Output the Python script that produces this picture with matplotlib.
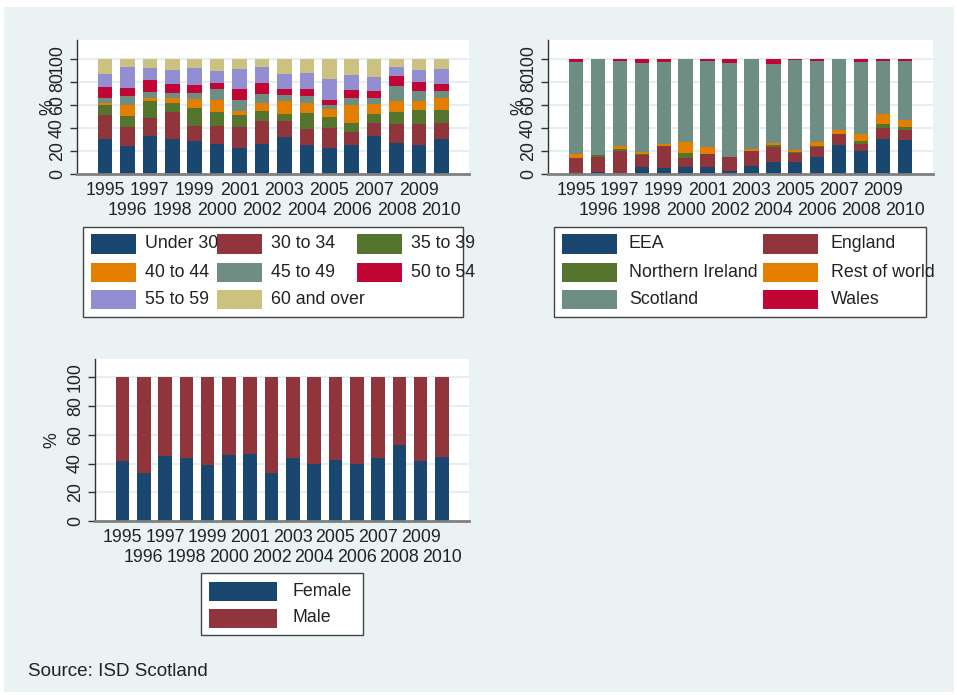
import numpy as np
import matplotlib
matplotlib.use("Agg")
import matplotlib.pyplot as plt
from matplotlib.patches import Rectangle

plt.rcParams["font.family"] = ["Liberation Sans", "DejaVu Sans"]

# ---------------------------------------------------------------- data
years = list(range(1995, 2011))

# Age group shares (%)
age_groups = ["Under 30", "30 to 34", "35 to 39", "40 to 44",
              "45 to 49", "50 to 54", "55 to 59", "60 and over"]
age_under_30 = [30.1, 24.6, 33.0, 30.1, 29.0, 26.4, 22.9, 26.4, 32.2, 24.9, 22.6, 25.2, 32.8, 27.2, 25.2, 30.4]
age_30_34 = [21.2, 16.6, 16.0, 24.1, 13.0, 15.3, 18.0, 19.7, 13.9, 14.2, 17.4, 11.6, 11.3, 16.6, 18.6, 13.9]
age_35_39 = [8.4, 9.5, 14.2, 7.2, 15.4, 12.5, 10.7, 8.7, 6.4, 13.9, 9.9, 7.5, 8.1, 9.8, 12.1, 11.1]
age_40_44 = [2.0, 9.3, 3.2, 5.0, 7.8, 10.1, 3.2, 6.6, 10.7, 8.7, 6.6, 15.4, 8.4, 10.2, 7.9, 10.7]
age_45_49 = [4.4, 7.5, 5.2, 4.0, 5.2, 9.6, 9.8, 8.2, 5.5, 6.1, 3.2, 6.1, 5.8, 13.0, 8.4, 5.8]
age_50_54 = [9.6, 7.3, 10.4, 8.2, 6.7, 5.2, 9.0, 9.5, 4.9, 6.1, 4.4, 7.5, 6.1, 8.1, 7.5, 6.4]
age_55_59 = [11.3, 18.2, 10.5, 12.1, 15.4, 10.8, 18.0, 13.9, 13.4, 13.9, 18.2, 12.5, 11.8, 8.4, 11.0, 13.3]
age_60_over = [13.0, 7.0, 7.5, 9.3, 7.5, 10.1, 8.4, 7.0, 13.0, 12.2, 17.7, 14.2, 15.7, 6.7, 9.3, 8.4]

# Place of birth shares (%)
birth_groups = ["EEA", "England", "Northern Ireland", "Rest of world", "Scotland", "Wales"]
birth_eea = [0.5, 1.7, 0.9, 6.1, 5.5, 5.8, 5.8, 2.3, 7.2, 10.7, 10.7, 14.8, 25.2, 20.0, 30.4, 29.9]
birth_england = [13.4, 12.8, 19.1, 10.7, 19.1, 8.1, 11.6, 12.5, 13.1, 12.8, 7.9, 8.4, 9.9, 6.4, 9.9, 8.4]
birth_n_ireland = [0.0, 2.0, 1.4, 0.4, 0.0, 4.1, 0.0, 0.0, 0.0, 1.7, 0.5, 1.4, 0.0, 2.3, 3.5, 2.3]
birth_rest_world = [3.8, 0.0, 2.9, 1.9, 1.5, 9.8, 6.1, 0.0, 1.1, 1.8, 1.8, 3.5, 3.2, 6.1, 8.4, 6.6]
birth_scotland = [80.0, 83.5, 74.0, 77.4, 71.3, 72.2, 74.8, 82.0, 78.6, 68.9, 77.9, 70.2, 61.7, 62.6, 46.4, 50.8]
birth_wales = [2.3, 0.0, 1.7, 3.5, 2.6, 0.0, 1.7, 3.2, 0.0, 4.1, 1.2, 1.7, 0.0, 2.6, 1.4, 2.0]

# Sex shares (%)
sex_groups = ["Female", "Male"]
sex_female = [41.9, 33.3, 45.6, 44.2, 38.8, 45.8, 46.7, 33.3, 43.7, 39.8, 42.3, 39.8, 43.7, 52.6, 41.9, 44.9]
sex_male = [round(100 - f, 1) for f in sex_female]

source_note = "Source: ISD Scotland"

# ---------------------------------------------------------------- style
PALETTE = ["#1a476f", "#90353b", "#55752f", "#e37e00",
           "#6e8e84", "#c10534", "#938dd2", "#cac27e"]
BG = "#eaf2f3"
GRID = "#e6eef0"
TXT = "#222222"
FS = 12.8

W, H = 957, 695
fig = plt.figure(figsize=(W / 100, H / 100), dpi=100, facecolor="white")

# graph region background
fig.add_artist(Rectangle((4 / W, 1 - 692 / H), 950 / W, 685 / H,
                         transform=fig.transFigure, facecolor=BG,
                         edgecolor="none", zorder=0))


def px_axes(left, top, right, bottom):
    return fig.add_axes([left / W, 1 - bottom / H, (right - left) / W, (bottom - top) / H])


def draw_panel(ax, series, colors, width, xlim, ytop, ylab_x):
    x = np.arange(len(years))
    base = np.zeros(len(years))
    for vals, c in zip(series, colors):
        v = np.asarray(vals, dtype=float)
        ax.bar(x, v, width, bottom=base, color=c, linewidth=0, zorder=3)
        base += v
    ax.set_facecolor("white")
    ax.set_xlim(*xlim)
    ax.set_ylim(0, ytop)
    for v in range(20, 101, 20):
        ax.axhline(v, color=GRID, lw=1.4, zorder=1)
    ticks = list(range(0, 101, 20))
    ax.set_yticks(ticks)
    ax.set_yticklabels([str(t) for t in ticks], rotation=90, va="center")
    ax.tick_params(axis="y", length=5, width=1, color="#333333", pad=3,
                   labelsize=FS, labelcolor=TXT)
    ax.set_xticks(x[::2])
    ax.set_xticklabels([str(y) for y in years[::2]])
    ax.set_xticks(x[1::2], minor=True)
    ax.set_xticklabels([str(y) for y in years[1::2]], minor=True)
    ax.tick_params(axis="x", which="both", length=0, labelsize=FS, labelcolor=TXT)
    ax.tick_params(axis="x", which="major", pad=6)
    ax.tick_params(axis="x", which="minor", pad=20)
    for s in ("top", "right"):
        ax.spines[s].set_visible(False)
    ax.spines["left"].set_color("#333333")
    ax.spines["left"].set_linewidth(1.0)
    ax.spines["bottom"].set_color("#7f7f7f")
    ax.spines["bottom"].set_linewidth(2.0)
    ax.spines["bottom"].set_zorder(4)
    ax.text(ylab_x, 0.5, "%", transform=ax.transAxes, rotation=90,
            ha="center", va="center", fontsize=FS, color=TXT)


def draw_legend(box, labels, colors, ncol, sw_x, sw_w, text_x, rows_y, sw_h=19):
    l, t, r, b = box
    fig.add_artist(Rectangle((l / W, 1 - b / H), (r - l) / W, (b - t) / H,
                             transform=fig.transFigure, facecolor="white",
                             edgecolor="#444444", lw=1.0, zorder=2))
    for i, (lab, c) in enumerate(zip(labels, colors)):
        row, col = divmod(i, ncol)
        cy = rows_y[row]
        fig.add_artist(Rectangle((sw_x[col] / W, 1 - (cy + sw_h / 2) / H),
                                 sw_w / W, sw_h / H, transform=fig.transFigure,
                                 facecolor=c, edgecolor="none", zorder=3))
        fig.text(text_x[col] / W, 1 - cy / H, lab, ha="left", va="center",
                 fontsize=FS, color=TXT, zorder=4)


# Panel: age group
ax1 = px_axes(77, 40, 469, 174)
draw_panel(ax1, [age_under_30, age_30_34, age_35_39, age_40_44,
                 age_45_49, age_50_54, age_55_59, age_60_over],
           PALETTE, 0.65, (-1.248, 16.23), 116.5, -0.074)
draw_legend((83, 227, 463, 317), age_groups, PALETTE, 3,
            [91, 217, 357], 45, [145, 271, 411], [244, 272, 299])

# Panel: place of birth
ax2 = px_axes(548, 40, 933, 174)
birth_colors = PALETTE[:6]
draw_panel(ax2, [birth_eea, birth_england, birth_n_ireland,
                 birth_rest_world, birth_scotland, birth_wales],
           birth_colors, 0.652, (-1.277, 16.28), 116.5, -0.075)
draw_legend((554, 227, 926, 317), birth_groups, birth_colors, 2,
            [562, 763], 55, [629, 831], [244, 272, 299])

# Panel: sex
ax3 = px_axes(95, 359, 469, 521)
sex_colors = PALETTE[:2]
draw_panel(ax3, [sex_female, sex_male], sex_colors, 0.64,
           (-1.29, 16.27), 112.8, -0.115)
draw_legend((201, 573, 363, 635), sex_groups, sex_colors, 1,
            [209], 68, [292], [591, 618])

fig.text(28 / W, 1 - 671 / H, source_note, ha="left", va="center",
         fontsize=13.6, color=TXT)

fig.savefig("out.png", dpi=100, facecolor="white")
